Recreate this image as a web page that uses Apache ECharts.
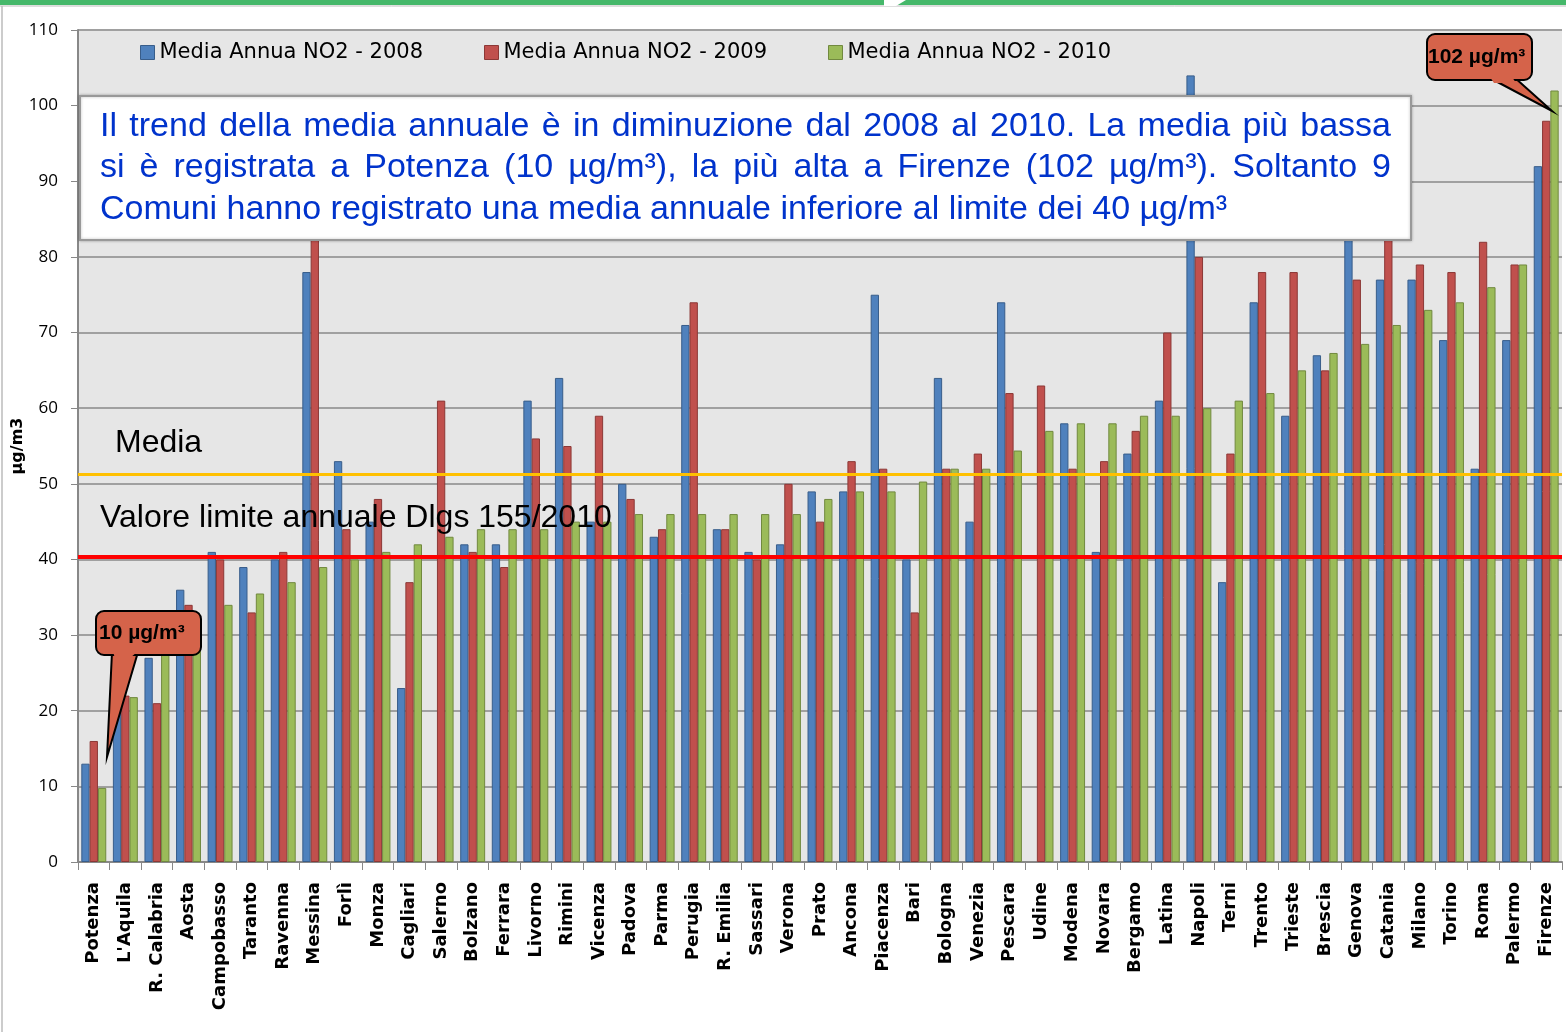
<!DOCTYPE html>
<html>
<head>
<meta charset="utf-8">
<script src="https://cdn.jsdelivr.net/npm/echarts@6/dist/echarts.min.js"></script>
<style>
  html, body { margin: 0; padding: 0; background: #fff; }
  #chart { width: 1566px; height: 1032px; }
</style>
</head>
<body>
<div id="chart"></div>
<script>
// comuni, ordinati per media 2010
const cities = ['Potenza', "L'Aquila", 'R. Calabria', 'Aosta', 'Campobasso', 'Taranto', 'Ravenna', 'Messina', 'Forlì', 'Monza',
  'Cagliari', 'Salerno', 'Bolzano', 'Ferrara', 'Livorno', 'Rimini', 'Vicenza', 'Padova', 'Parma', 'Perugia',
  'R. Emilia', 'Sassari', 'Verona', 'Prato', 'Ancona', 'Piacenza', 'Bari', 'Bologna', 'Venezia', 'Pescara',
  'Udine', 'Modena', 'Novara', 'Bergamo', 'Latina', 'Napoli', 'Terni', 'Trento', 'Trieste', 'Brescia',
  'Genova', 'Catania', 'Milano', 'Torino', 'Roma', 'Palermo', 'Firenze'];

const no2_2008 = [13, 25, 27, 36, 41, 39, 40, 78, 53, 45, 23, null, 42, 42, 61, 64, 45, 50, 43, 71, 44, 41, 42, 49, 49,
  75, 40, 64, 45, 74, null, 58, 41, 54, 61, 104, 37, 74, 59, 67, 83, 77, 77, 69, 52, 69, 92];
const no2_2009 = [16, 22, 21, 34, 40, 33, 41, 85, 44, 48, 37, 61, 41, 39, 56, 55, 59, 48, 44, 74, 44, 40, 50, 45, 53,
  52, 33, 52, 54, 62, 63, 52, 53, 57, 70, 80, 54, 78, 78, 65, 77, 84, 79, 78, 82, 79, 98];
const no2_2010 = [9.8, 21.8, 28, 30, 34, 35.5, 37, 39, 40, 41, 42, 43, 44, 44, 44, 45, 45, 46, 46, 46, 46, 46, 46, 48, 49,
  49, 50.3, 52, 52, 54.4, 57, 58, 58, 59, 59, 60, 61, 62, 65, 67.3, 68.5, 71, 73, 74, 76, 79, 102];

const yTicks = [0, 10, 20, 30, 40, 50, 60, 70, 80, 90, 100, 110];
const mediaLine = 51.3;
const limiteLine = 40.3;

const seriesNames = ['Media Annua NO2 - 2008', 'Media Annua NO2 - 2009', 'Media Annua NO2 - 2010'];

const textLines = [
  'Il trend della media annuale è in diminuzione dal 2008 al 2010. La media più bassa',
  'si è registrata a Potenza (10 µg/m³), la più alta a Firenze (102 µg/m³). Soltanto 9',
  'Comuni hanno registrato una media annuale inferiore al limite dei 40 µg/m³'
];

// testo giustificato: una parola per elemento
const boxFont = '34px "Liberation Sans", Arial, sans-serif';
const measureCtx = document.createElement('canvas').getContext('2d');
measureCtx.font = boxFont;
function lineWords(line, x0, x1, y, justify) {
  const words = line.split(' ');
  const widths = words.map(w => measureCtx.measureText(w).width);
  const total = widths.reduce((a, b) => a + b, 0);
  let gap = measureCtx.measureText(' ').width;
  if (justify) gap = Math.max(gap * 0.6, (x1 - x0 - total) / (words.length - 1));
  let x = x0;
  return words.map((w, i) => {
    const el = {
      type: 'text', x: x, y: y, z: 120,
      style: { text: w, font: boxFont, fill: '#0033cc', textVerticalAlign: 'middle' }
    };
    x += widths[i] + gap;
    return el;
  });
}

const chart = echarts.init(document.getElementById('chart'));

const colors = ['#4f81bd', '#c0504d', '#9bbb59'];
const borders = ['#385d8a', '#8c3836', '#71893f'];

function barSeries(i, data) {
  return {
    name: seriesNames[i],
    type: 'bar',
    data: data,
    barGap: '0%',
    barCategoryGap: '21%',
    itemStyle: { color: colors[i], borderColor: borders[i], borderWidth: 1 }
  };
}

const s2010 = barSeries(2, no2_2010);
s2010.markLine = {
  silent: true,
  symbol: 'none',
  label: { show: false },
  data: [
    { yAxis: mediaLine, lineStyle: { color: '#ffc000', width: 3, type: 'solid' } },
    { yAxis: limiteLine, lineStyle: { color: '#ff0000', width: 4, type: 'solid' } }
  ]
};

const legendBase = {
  top: 37, icon: 'rect', itemWidth: 14, itemHeight: 14,
  itemStyle: { borderWidth: 1 },
  textStyle: { fontFamily: 'DejaVu Sans', fontSize: 21, color: '#000' }
};

const calloutFill = '#d5634a';
const calloutFont = 'bold 21px "Liberation Sans", Arial, sans-serif';
const labelFont = '32px "Liberation Sans", Arial, sans-serif';

chart.setOption({
  backgroundColor: '#fff',
  animation: false,
  color: colors,
  legend: [
    Object.assign({}, legendBase, { left: 135, data: [seriesNames[0]] }),
    Object.assign({}, legendBase, { left: 479, data: [seriesNames[1]] }),
    Object.assign({}, legendBase, { left: 823, data: [seriesNames[2]] })
  ],
  grid: {
    left: 78, right: 4, top: 30, bottom: 170,
    outerBoundsMode: 'none',
    containLabel: false,
    show: true, backgroundColor: '#e6e6e6', borderWidth: 0
  },
  xAxis: {
    type: 'category',
    data: cities,
    axisLine: { lineStyle: { color: '#888', width: 2 } },
    axisTick: { show: true, length: 8, lineStyle: { color: '#888' } },
    axisLabel: {
      interval: 0, rotate: 90, margin: 20,
      fontFamily: 'DejaVu Sans', fontWeight: 'bold', fontSize: 18, color: '#000'
    }
  },
  yAxis: {
    type: 'value',
    min: yTicks[0], max: yTicks[yTicks.length - 1], interval: 10,
    name: 'µg/m3',
    nameLocation: 'middle',
    nameGap: 52,
    nameMoveOverlap: false,
    nameTextStyle: { fontFamily: 'DejaVu Sans', fontWeight: 'bold', fontSize: 16, color: '#000' },
    axisLine: { show: true, lineStyle: { color: '#888', width: 2 } },
    axisTick: { show: true, length: 7, lineStyle: { color: '#888' } },
    axisLabel: { margin: 20, fontFamily: 'Open Sans', fontSize: 17, color: '#000' },
    splitLine: { lineStyle: { color: '#a0a0a0', width: 2 } }
  },
  series: [barSeries(0, no2_2008), barSeries(1, no2_2009), s2010],
  graphic: [
    // cornice della slide
    { type: 'rect', z: 100, shape: { x: 0, y: 0, width: 1566, height: 5 }, style: { fill: '#45b86a' } },
    { type: 'polygon', z: 101, shape: { points: [[884, 0], [906, 0], [896, 6], [884, 6]] }, style: { fill: '#fff' } },
    { type: 'line', z: 100, shape: { x1: 0, y1: 6, x2: 1566, y2: 6 }, style: { stroke: '#bbb', lineWidth: 1 } },
    { type: 'line', z: 100, shape: { x1: 2, y1: 6, x2: 2, y2: 1032 }, style: { stroke: '#bbb', lineWidth: 1.5 } },
    // etichette delle linee
    { type: 'text', z: 100, x: 115, y: 443, style: { text: 'Media', font: labelFont, fill: '#000', textVerticalAlign: 'middle' } },
    { type: 'text', z: 100, x: 100, y: 518, style: { text: 'Valore limite annuale Dlgs 155/2010', font: labelFont, fill: '#000', textVerticalAlign: 'middle' } },
    // riquadro di commento
    { type: 'rect', z: 110, shape: { x: 80, y: 96, width: 1331, height: 144 }, style: { fill: '#fff', stroke: '#999', lineWidth: 2, shadowBlur: 3, shadowColor: 'rgba(0,0,0,0.25)' } }
  ]
    .concat(lineWords(textLines[0], 100, 1391, 127, true))
    .concat(lineWords(textLines[1], 100, 1391, 168, true))
    .concat(lineWords(textLines[2], 100, 1391, 210, false))
    .concat([
      // fumetto minimo
      { type: 'polygon', z: 130, shape: { points: [[112, 652], [107, 757], [138, 652]] }, style: { fill: calloutFill, stroke: '#000', lineWidth: 2 } },
      { type: 'rect', z: 131, shape: { x: 96, y: 611, width: 105, height: 44, r: 8 }, style: { fill: calloutFill, stroke: '#000', lineWidth: 2 } },
      { type: 'polygon', z: 132, shape: { points: [[113, 652], [137, 652], [130, 658], [115, 658]] }, style: { fill: calloutFill } },
      { type: 'text', z: 133, x: 99, y: 633, style: { text: '10 µg/m³', font: calloutFont, fill: '#000', textVerticalAlign: 'middle' } },
      // fumetto massimo
      { type: 'polygon', z: 130, shape: { points: [[1488, 77], [1552, 111], [1514, 77]] }, style: { fill: calloutFill, stroke: '#000', lineWidth: 2 } },
      { type: 'rect', z: 131, shape: { x: 1427, y: 34, width: 105, height: 46, r: 8 }, style: { fill: calloutFill, stroke: '#000', lineWidth: 2 } },
      { type: 'polygon', z: 132, shape: { points: [[1490, 77], [1512, 77], [1516, 83], [1494, 83]] }, style: { fill: calloutFill } },
      { type: 'text', z: 133, x: 1428, y: 57, style: { text: '102 µg/m³', font: calloutFont, fill: '#000', textVerticalAlign: 'middle' } }
    ])
});
</script>
</body>
</html>
